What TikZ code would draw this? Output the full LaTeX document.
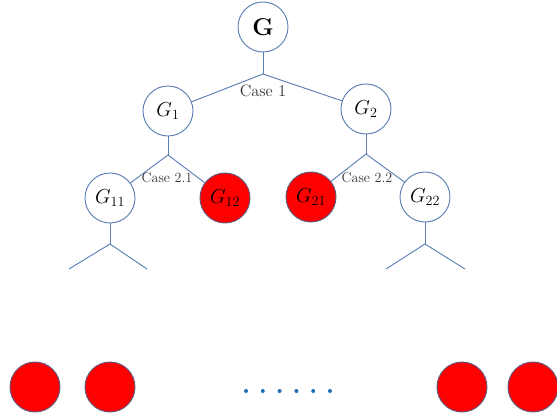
\documentclass[tikz,border=0pt]{standalone}
\usepackage{tikz}
\usetikzlibrary{positioning}
\usepackage{amssymb,amsmath}
\definecolor{edgeblue}{RGB}{91,127,181}
\definecolor{rimgray}{RGB}{95,90,125}
\definecolor{dotblue}{RGB}{31,110,180}
\definecolor{casegray}{RGB}{50,50,50}

\begin{document}
\begin{tikzpicture}[x=0.03cm,y=-0.03cm,
      main node/.style={circle,draw=edgeblue,line width=0.8pt,fill=white,
        minimum size=1.5cm,inner sep=0pt,font=\fontsize{17}{19}\selectfont},
      red node/.style={main node,fill=red,draw=rimgray},
      case label/.style={text=casegray,inner sep=1pt}]

      \useasboundingbox (0,0) rectangle (557,416);

      % tree
      \node[main node,font=\fontsize{22}{24}\selectfont] (G) at (263,27) {$\mathbf{G}$};
      \node[main node] (G1) at (168,111) {$G_1$};
      \node[main node] (G2) at (366,109) {$G_2$};
      \node[main node] (G11) at (110,198) {$G_{11}$};
      \node[red node] (G12) at (225,198) {$G_{12}$};
      \node[red node] (G21) at (311,197) {$G_{21}$};
      \node[main node] (G22) at (425,197) {$G_{22}$};

      \coordinate (c0) at (263,74);
      \coordinate (c1) at (168,155);
      \coordinate (c2) at (366,154);
      \coordinate (c11) at (110,244);
      \coordinate (c22) at (425,244);
      \coordinate (l1) at (69,269);
      \coordinate (l2) at (147,269);
      \coordinate (l3) at (386,269);
      \coordinate (l4) at (465,269);

      \path[draw=edgeblue,line width=0.8pt]
      (G) edge (c0)
      (c0) edge (G1)
      (c0) edge (G2)
      (G1) edge (c1)
      (c1) edge (G11)
      (c1) edge (G12)
      (G2) edge (c2)
      (c2) edge (G21)
      (c2) edge (G22)
      (G11) edge (c11)
      (c11) edge (l1)
      (c11) edge (l2)
      (G22) edge (c22)
      (c22) edge (l3)
      (c22) edge (l4);

      \node[case label,font=\fontsize{14}{16}\selectfont] (case1) at (263,91) {Case 1};
      \node[case label,font=\fontsize{12}{14}\selectfont] (case21) at (167,178) {Case 2.1};
      \node[case label,font=\fontsize{12}{14}\selectfont] (case22) at (367,178) {Case 2.2};

      % bottom row
      \node[red node] (b1) at (35,387) {};
      \node[red node] (b2) at (110,387) {};
      \node[red node] (b3) at (462,387) {};
      \node[red node] (b4) at (533,387) {};
      \foreach \i in {0,...,5}
        \fill[dotblue] (246+\i*16.8,391) circle (2);
    \end{tikzpicture}
\end{document}
